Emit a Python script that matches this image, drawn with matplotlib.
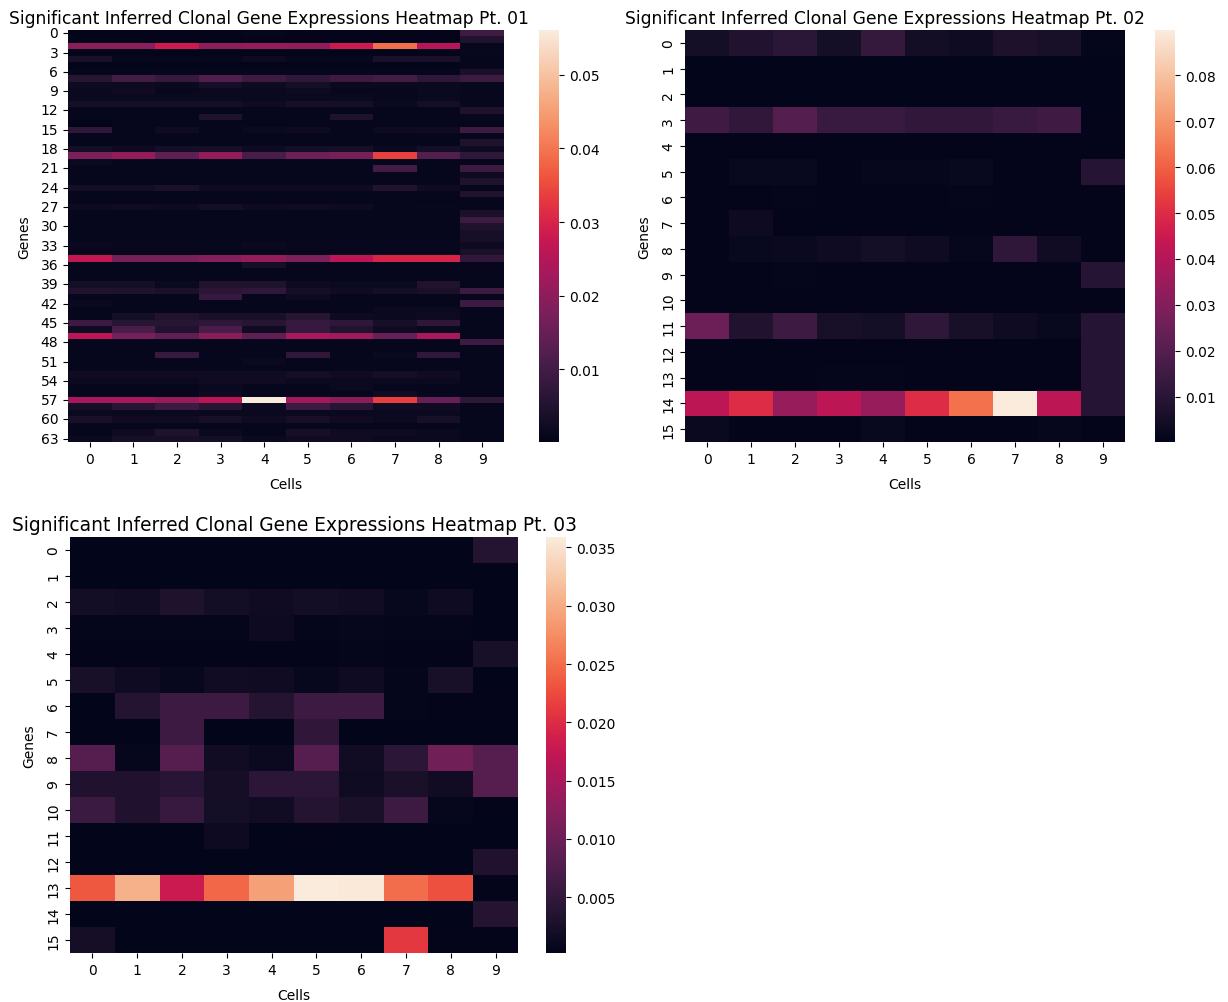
import matplotlib
matplotlib.use("Agg")
import matplotlib.pyplot as plt
import numpy as np
import seaborn as sns

cells = list(range(10))

# Heatmap Pt. 01 : 64 genes x 10 cells
h1_values = [
    [0.0005, 0.0005, 0.0005, 0.0005, 0.0008, 0.0005, 0.0005, 0.0005, 0.0005, 0.0095],
    [0.0005, 0.0005, 0.0005, 0.0005, 0.0005, 0.0005, 0.0005, 0.0005, 0.0005, 0.005],
    [0.0195, 0.0195, 0.028, 0.020, 0.021, 0.0205, 0.028, 0.039, 0.025, 0.0008],
    [0.0005, 0.0005, 0.0005, 0.0005, 0.0005, 0.0005, 0.0005, 0.0005, 0.0005, 0.001],
    [0.004, 0.001, 0.001, 0.001, 0.002, 0.001, 0.001, 0.004, 0.004, 0.0008],
    [0.0002, 0.0002, 0.0002, 0.0002, 0.0002, 0.0002, 0.0002, 0.0002, 0.0002, 0.0008],
    [0.0008, 0.0008, 0.0008, 0.0008, 0.0008, 0.0008, 0.0008, 0.0008, 0.0008, 0.004],
    [0.006, 0.010, 0.008, 0.012, 0.009, 0.007, 0.009, 0.010, 0.007, 0.009],
    [0.002, 0.002, 0.0015, 0.003, 0.002, 0.003, 0.0015, 0.0015, 0.0015, 0.001],
    [0.0015, 0.0025, 0.001, 0.0015, 0.0015, 0.002, 0.001, 0.001, 0.0015, 0.001],
    [0.0015, 0.0015, 0.0015, 0.0015, 0.0015, 0.0015, 0.0015, 0.001, 0.0015, 0.001],
    [0.003, 0.003, 0.003, 0.003, 0.0025, 0.0035, 0.003, 0.0015, 0.003, 0.001],
    [0.0008, 0.0008, 0.0008, 0.0008, 0.0008, 0.0008, 0.0008, 0.0008, 0.0008, 0.0045],
    [0.0008, 0.0008, 0.0008, 0.0045, 0.0008, 0.0008, 0.0045, 0.0008, 0.0008, 0.001],
    [0.0001, 0.0008, 0.0008, 0.0008, 0.0008, 0.0008, 0.0008, 0.0008, 0.0008, 0.0008],
    [0.007, 0.0008, 0.0025, 0.0008, 0.0015, 0.002, 0.0008, 0.002, 0.0025, 0.009],
    [0.0008, 0.0008, 0.0008, 0.0008, 0.0008, 0.0008, 0.0008, 0.0008, 0.0008, 0.0008],
    [0.0008, 0.0008, 0.0008, 0.0008, 0.0008, 0.0008, 0.0008, 0.0008, 0.0008, 0.0045],
    [0.003, 0.002, 0.003, 0.0035, 0.002, 0.003, 0.0035, 0.0015, 0.003, 0.002],
    [0.018, 0.021, 0.014, 0.021, 0.011, 0.016, 0.017, 0.034, 0.012, 0.007],
    [0.0015, 0.0008, 0.0008, 0.0008, 0.0008, 0.0008, 0.0008, 0.0008, 0.0008, 0.0008],
    [0.0008, 0.0008, 0.0008, 0.0008, 0.0008, 0.0008, 0.0008, 0.010, 0.0008, 0.009],
    [0.0008, 0.0008, 0.0008, 0.0008, 0.0008, 0.0008, 0.0008, 0.0008, 0.0008, 0.002],
    [0.0008, 0.0008, 0.0008, 0.0008, 0.0008, 0.0008, 0.0008, 0.0008, 0.0008, 0.0045],
    [0.003, 0.003, 0.004, 0.0025, 0.0025, 0.0025, 0.0025, 0.005, 0.0025, 0.0008],
    [0.0008, 0.0008, 0.0008, 0.0008, 0.0008, 0.0008, 0.0008, 0.0008, 0.0008, 0.005],
    [0.0008, 0.0008, 0.0008, 0.0008, 0.0008, 0.0008, 0.0008, 0.0008, 0.0008, 0.0008],
    [0.002, 0.0025, 0.002, 0.003, 0.002, 0.0025, 0.002, 0.0008, 0.001, 0.0008],
    [0.0008, 0.0008, 0.0008, 0.0008, 0.0008, 0.0008, 0.0008, 0.0008, 0.0008, 0.004],
    [0.0008, 0.0008, 0.0008, 0.0008, 0.0008, 0.0008, 0.0008, 0.0008, 0.0008, 0.009],
    [0.0008, 0.0008, 0.0008, 0.0008, 0.0008, 0.0008, 0.0008, 0.0008, 0.0008, 0.0045],
    [0.0008, 0.0008, 0.0008, 0.0008, 0.0008, 0.0008, 0.0008, 0.0008, 0.0008, 0.0035],
    [0.0008, 0.0008, 0.0008, 0.0008, 0.0008, 0.0008, 0.0008, 0.0008, 0.0008, 0.0035],
    [0.0015, 0.001, 0.001, 0.001, 0.0015, 0.001, 0.001, 0.001, 0.001, 0.002],
    [0.0008, 0.0008, 0.0008, 0.0008, 0.0008, 0.0008, 0.0008, 0.0008, 0.0008, 0.004],
    [0.027, 0.017, 0.017, 0.019, 0.021, 0.018, 0.026, 0.030, 0.030, 0.0075],
    [0.0008, 0.0008, 0.0008, 0.0008, 0.003, 0.0008, 0.0008, 0.0008, 0.0008, 0.0008],
    [0.0008, 0.0008, 0.0008, 0.0008, 0.0008, 0.0008, 0.0008, 0.0008, 0.0008, 0.0008],
    [0.0008, 0.0008, 0.0008, 0.0008, 0.0008, 0.0008, 0.0008, 0.0008, 0.0008, 0.0008],
    [0.003, 0.003, 0.0015, 0.005, 0.0045, 0.002, 0.0015, 0.0015, 0.005, 0.0008],
    [0.005, 0.0045, 0.004, 0.0065, 0.007, 0.003, 0.0025, 0.003, 0.004, 0.009],
    [0.0008, 0.0008, 0.0008, 0.008, 0.0008, 0.002, 0.0008, 0.0008, 0.0008, 0.0008],
    [0.0015, 0.0008, 0.0008, 0.0008, 0.0008, 0.0008, 0.0008, 0.0008, 0.0008, 0.009],
    [0.0008, 0.0008, 0.0008, 0.0008, 0.0008, 0.0008, 0.0008, 0.0015, 0.0015, 0.0008],
    [0.0008, 0.003, 0.005, 0.004, 0.004, 0.006, 0.002, 0.0015, 0.002, 0.0008],
    [0.009, 0.006, 0.006, 0.007, 0.006, 0.008, 0.007, 0.0035, 0.007, 0.0008],
    [0.0025, 0.011, 0.005, 0.011, 0.0025, 0.008, 0.005, 0.0025, 0.0015, 0.0008],
    [0.026, 0.017, 0.014, 0.020, 0.014, 0.0235, 0.022, 0.015, 0.0235, 0.0008],
    [0.0008, 0.0008, 0.0008, 0.0008, 0.0008, 0.0008, 0.0008, 0.0008, 0.0008, 0.009],
    [0.0008, 0.0008, 0.0008, 0.0008, 0.0008, 0.0008, 0.0008, 0.0008, 0.0008, 0.0008],
    [0.0008, 0.0008, 0.008, 0.0008, 0.0008, 0.007, 0.0008, 0.0015, 0.007, 0.0008],
    [0.0008, 0.0008, 0.0008, 0.0008, 0.0015, 0.0008, 0.0008, 0.0008, 0.0008, 0.0008],
    [0.0008, 0.0008, 0.0008, 0.0008, 0.0008, 0.0008, 0.0008, 0.0008, 0.0008, 0.0008],
    [0.0025, 0.0025, 0.0025, 0.0025, 0.0025, 0.003, 0.0025, 0.003, 0.0025, 0.0008],
    [0.0015, 0.0015, 0.0015, 0.0025, 0.0025, 0.0015, 0.0015, 0.0015, 0.0015, 0.0008],
    [0.0008, 0.0008, 0.0008, 0.0015, 0.0008, 0.0008, 0.0015, 0.0008, 0.0008, 0.0008],
    [0.0008, 0.0008, 0.0008, 0.002, 0.0008, 0.0008, 0.0008, 0.0025, 0.0008, 0.0008],
    [0.0235, 0.0235, 0.021, 0.026, 0.0561, 0.022, 0.020, 0.034, 0.015, 0.007],
    [0.003, 0.006, 0.009, 0.006, 0.0015, 0.009, 0.006, 0.0025, 0.0025, 0.0008],
    [0.0015, 0.0015, 0.0015, 0.0015, 0.0015, 0.0015, 0.0015, 0.0015, 0.0015, 0.0008],
    [0.004, 0.0025, 0.0025, 0.0035, 0.0025, 0.0035, 0.0025, 0.0015, 0.0035, 0.0008],
    [0.0008, 0.0008, 0.0008, 0.0008, 0.0008, 0.0008, 0.0008, 0.0008, 0.0008, 0.0008],
    [0.0008, 0.0025, 0.0045, 0.0015, 0.0008, 0.0035, 0.0025, 0.0025, 0.0015, 0.0008],
    [0.0015, 0.0035, 0.0035, 0.003, 0.0015, 0.0025, 0.0025, 0.0015, 0.0015, 0.0008],
]

# Heatmap Pt. 02 : 16 genes x 10 cells
h2_values = [
    [0.005, 0.008, 0.010, 0.005, 0.0125, 0.0045, 0.0035, 0.007, 0.006, 0.001],
    [0.0003, 0.0003, 0.0003, 0.0003, 0.0003, 0.0003, 0.0003, 0.0003, 0.0003, 0.0003],
    [0.0001, 0.0003, 0.0003, 0.0003, 0.0003, 0.0003, 0.0003, 0.0003, 0.0003, 0.0003],
    [0.015, 0.012, 0.020, 0.0135, 0.0135, 0.012, 0.012, 0.0135, 0.015, 0.0005],
    [0.0005, 0.0005, 0.0008, 0.0005, 0.0005, 0.0005, 0.0005, 0.0005, 0.0005, 0.0005],
    [0.0005, 0.002, 0.002, 0.0008, 0.0015, 0.0015, 0.002, 0.0005, 0.0005, 0.009],
    [0.0005, 0.0005, 0.001, 0.0005, 0.0005, 0.0005, 0.001, 0.0005, 0.0005, 0.0005],
    [0.0005, 0.003, 0.0005, 0.0008, 0.0005, 0.0005, 0.0005, 0.0005, 0.0005, 0.0005],
    [0.0005, 0.002, 0.0025, 0.0035, 0.005, 0.0035, 0.0015, 0.011, 0.004, 0.0005],
    [0.0005, 0.0005, 0.001, 0.0005, 0.0005, 0.0005, 0.0005, 0.0005, 0.0005, 0.009],
    [0.0005, 0.0005, 0.0005, 0.0005, 0.0005, 0.0005, 0.0005, 0.0005, 0.0005, 0.0005],
    [0.025, 0.008, 0.0145, 0.006, 0.005, 0.011, 0.006, 0.0035, 0.002, 0.009],
    [0.0005, 0.0005, 0.0005, 0.0005, 0.0005, 0.0005, 0.0005, 0.0005, 0.0005, 0.009],
    [0.0005, 0.0005, 0.0005, 0.001, 0.001, 0.0005, 0.0008, 0.0005, 0.0005, 0.009],
    [0.042, 0.050, 0.034, 0.042, 0.034, 0.050, 0.063, 0.0899, 0.042, 0.009],
    [0.0025, 0.0005, 0.0005, 0.0005, 0.002, 0.0005, 0.0005, 0.0005, 0.0015, 0.0008],
]

# Heatmap Pt. 03 : 16 genes x 10 cells
h3_values = [
    [0.0003, 0.0003, 0.0003, 0.0003, 0.0003, 0.0003, 0.0003, 0.0003, 0.0003, 0.0036],
    [0.0002, 0.0002, 0.0002, 0.0002, 0.0002, 0.0002, 0.0002, 0.0002, 0.0002, 0.0002],
    [0.002, 0.0018, 0.003, 0.002, 0.0016, 0.002, 0.0018, 0.0008, 0.0015, 0.0003],
    [0.0005, 0.0005, 0.0006, 0.0006, 0.0014, 0.0005, 0.0007, 0.0005, 0.0005, 0.0003],
    [0.0004, 0.0004, 0.0004, 0.0004, 0.0004, 0.0004, 0.0006, 0.0004, 0.0004, 0.0025],
    [0.0025, 0.0015, 0.0008, 0.0018, 0.0016, 0.0008, 0.0015, 0.0005, 0.0025, 0.0003],
    [0.0003, 0.0036, 0.006, 0.006, 0.0036, 0.006, 0.006, 0.0005, 0.0004, 0.0004],
    [0.0003, 0.0003, 0.006, 0.0003, 0.0003, 0.0047, 0.0003, 0.0003, 0.0003, 0.0003],
    [0.0082, 0.0007, 0.0082, 0.0018, 0.0011, 0.0082, 0.0018, 0.0043, 0.0104, 0.0082],
    [0.0032, 0.0032, 0.004, 0.0022, 0.0043, 0.0043, 0.0015, 0.0026, 0.0018, 0.0082],
    [0.0057, 0.0032, 0.0054, 0.0021, 0.0018, 0.0036, 0.0026, 0.006, 0.0007, 0.0004],
    [0.0003, 0.0003, 0.0003, 0.0014, 0.0003, 0.0004, 0.0003, 0.0003, 0.0003, 0.0003],
    [0.0003, 0.0003, 0.0003, 0.0003, 0.0003, 0.0003, 0.0003, 0.0003, 0.0003, 0.0032],
    [0.0234, 0.0305, 0.018, 0.0245, 0.029, 0.0359, 0.0356, 0.025, 0.0228, 0.0004],
    [0.0003, 0.0003, 0.0003, 0.0003, 0.0003, 0.0003, 0.0003, 0.0003, 0.0003, 0.0036],
    [0.0022, 0.0003, 0.0003, 0.0003, 0.0003, 0.0003, 0.0003, 0.021, 0.0004, 0.0004],
]

titles = [
    "Significant Inferred Clonal Gene Expressions Heatmap Pt. 01",
    "Significant Inferred Clonal Gene Expressions Heatmap Pt. 02",
    "Significant Inferred Clonal Gene Expressions Heatmap Pt. 03",
]

W, H = 1228, 1003
fig = plt.figure(figsize=(W / 100, H / 100), dpi=100)


def box(x0, x1, y0, y1):
    return [x0 / W, 1 - y1 / H, (x1 - x0) / W, (y1 - y0) / H]


panels = [
    (h1_values, box(68, 504, 31, 443), box(539, 559, 31, 443), titles[0], 3, 0, 12.3, 0.46),
    (h2_values, box(685, 1125, 31, 443), box(1155, 1175, 31, 443), titles[1], 1, 90, 12.3, 0.455),
    (h3_values, box(70, 518, 538, 954), box(546, 566, 538, 954), titles[2], 1, 90, 13.4, 0.5),
]

for vals, axpos, cbpos, title, ystep, yrot, tsize, tx in panels:
    ax = fig.add_axes(axpos)
    cax = fig.add_axes(cbpos)
    data = np.array(vals)
    sns.heatmap(data, ax=ax, cbar_ax=cax, xticklabels=cells, yticklabels=ystep)
    ax.set_title(title, fontsize=tsize, x=tx, pad=5)
    ax.set_xlabel("Cells", labelpad=8)
    ax.set_ylabel("Genes", labelpad=7)
    plt.setp(ax.get_yticklabels(), rotation=yrot, va="center")
    plt.setp(ax.get_xticklabels(), rotation=0)

fig.savefig("out.png", dpi=100)
